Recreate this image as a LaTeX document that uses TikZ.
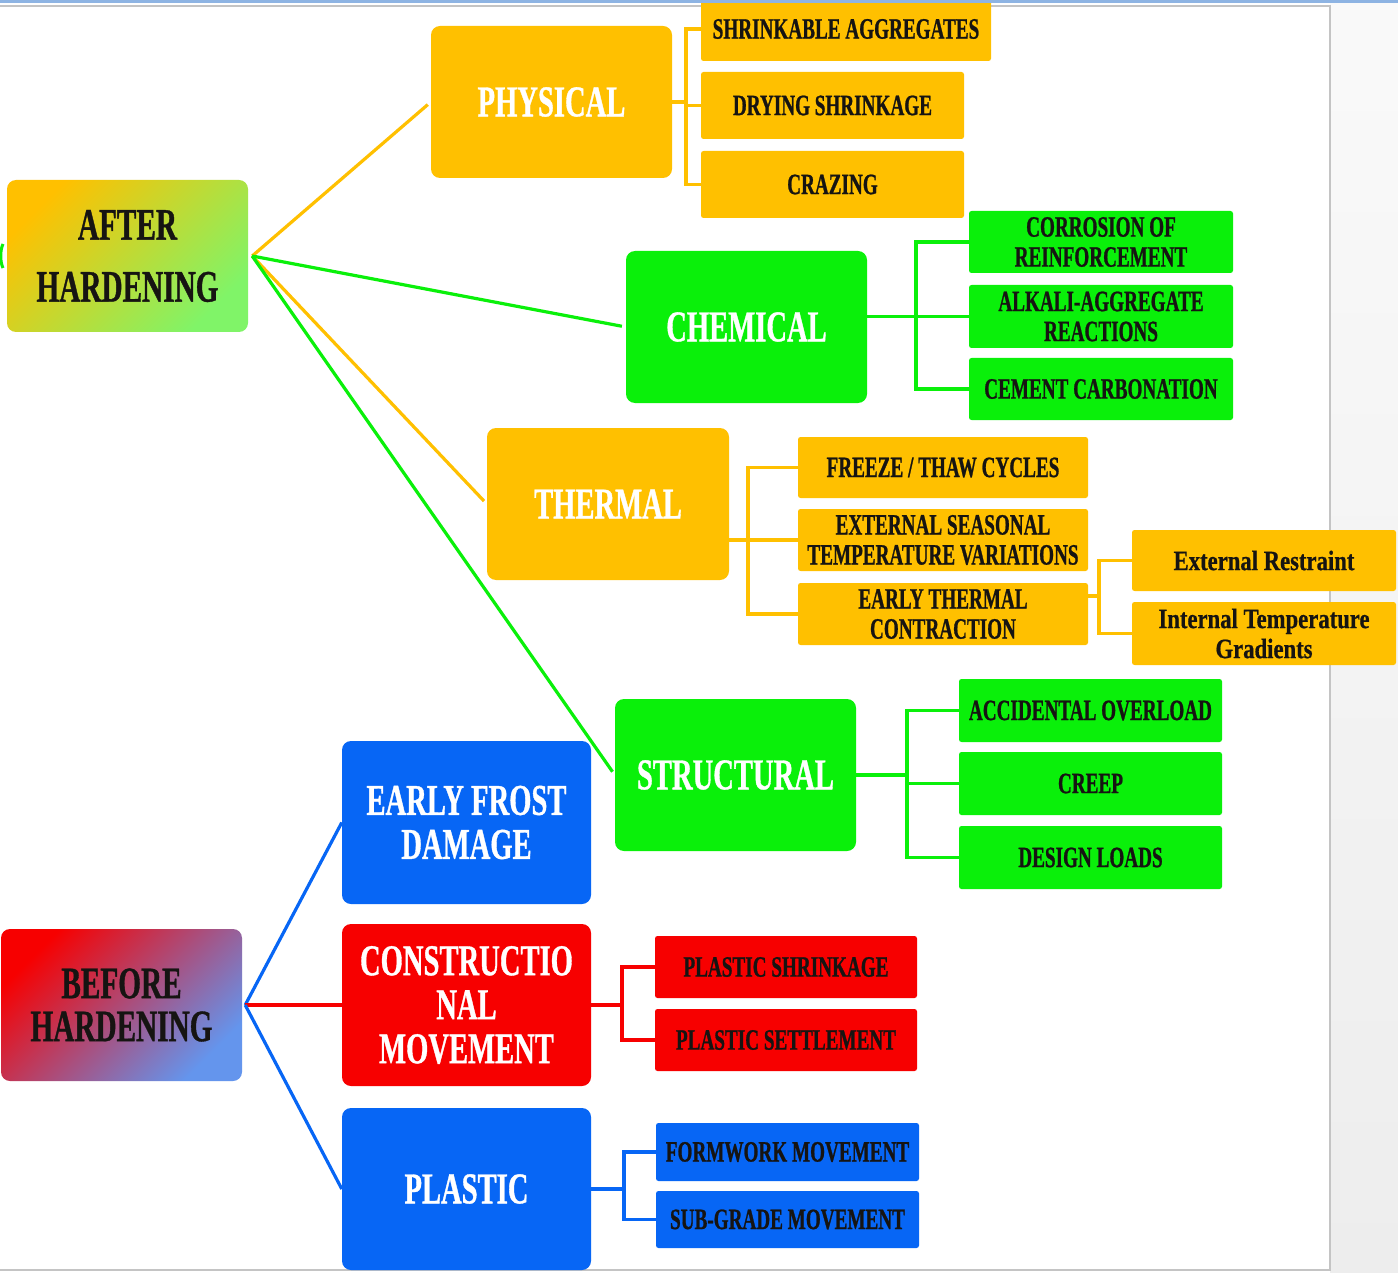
\documentclass[tikz,border=0pt]{standalone}
\usepackage{fontspec}
\usetikzlibrary{calc}
% condensed bold serif for the capitals, a wider cut for mixed case
\newfontfamily\capsf{Liberation Serif}[FakeStretch=0.65, FakeBold=0.8]
\newfontfamily\mixf{Liberation Serif}[FakeStretch=0.81, FakeBold=0.6]

\definecolor{orangeC}{HTML}{FFC000}
\definecolor{greenC}{HTML}{0AF00A}
\definecolor{blueC}{HTML}{0766F5}
\definecolor{redC}{HTML}{F70000}
\definecolor{lgreenC}{HTML}{80F468}
\definecolor{cornC}{HTML}{6495ED}
\definecolor{inkC}{HTML}{161412}
\definecolor{borderC}{HTML}{C4C4C4}
\definecolor{stripC}{HTML}{EDEDED}
\definecolor{topC}{HTML}{8EB4E3}

\tikzset{
  bigbox/.style={rounded corners=9pt, inner sep=0pt, align=center, text=white,
    font=\capsf\bfseries\fontsize{44}{44}\selectfont,
    minimum width=241pt, minimum height=152pt},
  rootbox/.style={bigbox, text=inkC},
  leafbox/.style={rounded corners=2.5pt, inner sep=0pt, align=center, text=inkC,
    font=\capsf\bfseries\fontsize{29.5}{30}\selectfont, minimum height=62pt},
  mixbox/.style={leafbox, font=\mixf\bfseries\fontsize{28}{30}\selectfont},
  hubline/.style={line width=3.2pt},
  bracket/.style={line width=3.5pt, line join=miter},
}

\begin{document}
\begin{tikzpicture}[x=1pt,y=-1pt]
\useasboundingbox (0,0) rectangle (1398,1273);

% page and surrounding window
\fill[white] (0,0) rectangle (1398,1273);
\shade[top color=white!70!stripC, bottom color=stripC] (1330,0) rectangle (1398,1273);
\draw[borderC, line width=1.5pt] (0,6) -- (1330,6) -- (1330,1270) -- (0,1270);
\draw[greenC, line width=3pt] (3,244) .. controls (0,250) and (0,262) .. (3,268);

% main categories
\node[bigbox, fill=orangeC] (phys) at (551.5,102) {PHYSICAL};
\node[bigbox, fill=greenC] (chem) at (746.5,327) {CHEMICAL};
\node[bigbox, fill=orangeC, minimum width=242pt] (therm) at (608,504) {THERMAL};
\node[bigbox, fill=greenC] (struc) at (735.5,775) {STRUCTURAL};
\node[bigbox, fill=blueC, minimum width=249pt, minimum height=163pt] (frost) at (466.5,822.5) {EARLY FROST\\DAMAGE};
\node[bigbox, fill=redC, minimum width=249pt, minimum height=162pt] (constr) at (466.5,1005) {CONSTRUCTIO\\NAL\\MOVEMENT};
\node[bigbox, fill=blueC, minimum width=249pt, minimum height=162pt] (plast) at (466.5,1189) {PLASTIC};

% roots
\node[rootbox, top color=orangeC, bottom color=lgreenC, shading angle=45,
  font=\capsf\bfseries\fontsize{45}{62}\selectfont] (after) at (127.5,256) {AFTER\\HARDENING};
\node[rootbox, top color=redC, bottom color=cornC, shading angle=45,
  font=\capsf\bfseries\fontsize{45}{43}\selectfont] (before) at (121.5,1005) {BEFORE\\HARDENING};

% physical causes
\node[leafbox, fill=orangeC, minimum width=290pt, minimum height=64pt] (shrink) at (846,29) {SHRINKABLE AGGREGATES};
\node[leafbox, fill=orangeC, minimum width=263pt, minimum height=67pt] (dry) at (832.5,105.5) {DRYING SHRINKAGE};
\node[leafbox, fill=orangeC, minimum width=263pt, minimum height=67pt] (craz) at (832.5,184.5) {CRAZING};

% chemical causes
\node[leafbox, fill=greenC, minimum width=264pt] (corr) at (1101,242) {CORROSION OF\\REINFORCEMENT};
\node[leafbox, fill=greenC, minimum width=264pt, minimum height=63pt] (alkali) at (1101,316.5) {ALKALI-AGGREGATE\\REACTIONS};
\node[leafbox, fill=greenC, minimum width=264pt] (carb) at (1101,389) {CEMENT CARBONATION};

% thermal causes
\node[leafbox, fill=orangeC, minimum width=290pt, minimum height=61pt] (freeze) at (943,467.5) {FREEZE / THAW CYCLES};
\node[leafbox, fill=orangeC, minimum width=290pt] (seas) at (943,540) {EXTERNAL SEASONAL\\TEMPERATURE VARIATIONS};
\node[leafbox, fill=orangeC, minimum width=290pt] (early) at (943,614) {EARLY THERMAL\\CONTRACTION};
\node[mixbox, fill=orangeC, minimum width=264pt, minimum height=61pt] (extr) at (1264,560.5) {External Restraint};
\node[mixbox, fill=orangeC, minimum width=264pt, minimum height=63pt] (intg) at (1264,633.5) {Internal Temperature\\Gradients};

% structural causes
\node[leafbox, fill=greenC, minimum width=263pt, minimum height=63pt] (accid) at (1090.5,710.5) {ACCIDENTAL OVERLOAD};
\node[leafbox, fill=greenC, minimum width=263pt, minimum height=63pt] (creep) at (1090.5,783.5) {CREEP};
\node[leafbox, fill=greenC, minimum width=263pt, minimum height=63pt] (design) at (1090.5,857.5) {DESIGN LOADS};

% constructional movement
\node[leafbox, fill=redC, minimum width=262pt] (pshr) at (786,967) {PLASTIC SHRINKAGE};
\node[leafbox, fill=redC, minimum width=262pt] (pset) at (786,1040) {PLASTIC SETTLEMENT};

% plastic
\node[leafbox, fill=blueC, minimum width=263pt, minimum height=58pt] (form) at (787.5,1152) {FORMWORK MOVEMENT};
\node[leafbox, fill=blueC, minimum width=263pt, minimum height=57pt] (subg) at (787.5,1219.5) {SUB-GRADE MOVEMENT};

% fans from the roots
\coordinate (ahub) at ($(after.east)+(4,0)$);
\draw[hubline, orangeC, shorten >=4pt] (ahub) -- (phys.west);
\draw[hubline, orangeC, shorten >=4pt] (ahub) -- (therm.west);
\draw[hubline, greenC, shorten >=4pt] (ahub) -- (chem.west);
\draw[hubline, greenC, shorten >=4pt] (ahub) -- (struc.west);

\coordinate (bhub) at ($(before.east)+(3,0)$);
\draw[hubline, blueC] (bhub) -- (frost.west);
\draw[hubline, redC] (bhub) -- (constr.west);
\draw[hubline, blueC] (bhub) -- (plast.west);

% brackets to the leaves
\draw[bracket, orangeC] (phys.east) -- ++(14,0) coordinate (pj);
\draw[bracket, orangeC] (shrink.west) -| (pj) |- (craz.west);
\draw[bracket, orangeC] (pj) |- (dry.west);

\draw[bracket, greenC] (chem.east |- alkali.west) -- ++(49,0) coordinate (cj);
\draw[bracket, greenC] (corr.west) -| (cj) |- (carb.west);
\draw[bracket, greenC] (cj) -- (alkali.west);

\draw[bracket, orangeC] (therm.east |- seas.west) -- ++(19,0) coordinate (tj);
\draw[bracket, orangeC] (freeze.west) -| (tj) |- (early.west);
\draw[bracket, orangeC] (tj) -- (seas.west);

\draw[bracket, orangeC] ($(early.east)+(0,-18)$) -- ++(11,0) coordinate (ej);
\draw[bracket, orangeC] (extr.west) -| (ej) |- (intg.west);

\draw[bracket, greenC] (struc.east) -- ++(51,0) coordinate (sj);
\draw[bracket, greenC] (accid.west) -| (sj) |- (design.west);
\draw[bracket, greenC] (sj) |- (creep.west);

\draw[bracket, redC] (constr.east) -- ++(31,0) coordinate (rj);
\draw[bracket, redC] (pshr.west) -| (rj) |- (pset.west);

\draw[bracket, blueC] (plast.east) -- ++(33,0) coordinate (bj);
\draw[bracket, blueC] (form.west) -| (bj) |- (subg.west);

% window title bar edge
\fill[topC] (0,0) rectangle (1398,3);
\end{tikzpicture}
\end{document}
